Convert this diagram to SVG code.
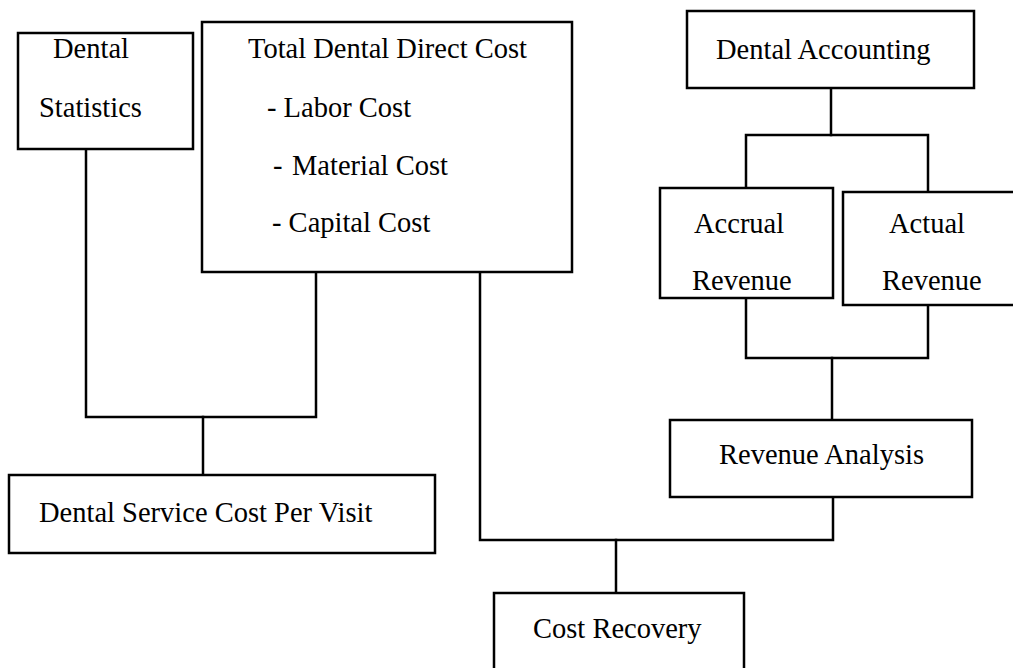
<svg xmlns="http://www.w3.org/2000/svg" width="1013" height="668" viewBox="0 0 1013 668">
<style>
.box{fill:#fff;stroke:#000;stroke-width:2.5}
.ln{fill:none;stroke:#000;stroke-width:2.5;stroke-linejoin:miter;stroke-linecap:square}
text{font-family:"Liberation Serif","Times New Roman",serif;font-size:28.5px;fill:#000}
</style>
<rect width="1013" height="668" fill="#fff"/>
<g id="connectors">
<polyline class="ln" points="86,149 86,417 316,417 316,272"/>
<line class="ln" x1="203" y1="417" x2="203" y2="475"/>
<polyline class="ln" points="480,272 480,540 833,540 833,497"/>
<line class="ln" x1="616" y1="540" x2="616" y2="593"/>
<line class="ln" x1="831" y1="88" x2="831" y2="135"/>
<polyline class="ln" points="746,188 746,135 928,135 928,192"/>
<polyline class="ln" points="746,298 746,358 928,358 928,305"/>
<line class="ln" x1="832" y1="358" x2="832" y2="420"/>
</g>
<g id="dental-statistics">
<rect class="box" x="18" y="33" width="175" height="116"/>
<text x="53" y="58">Dental</text>
<text x="39" y="117">Statistics</text>
</g>
<g id="total-direct-cost">
<rect class="box" x="202" y="22" width="370" height="250"/>
<text x="248" y="58">Total Dental Direct Cost</text>
<text x="267" y="117">- Labor Cost</text>
<text y="175"><tspan x="273">-</tspan><tspan x="292">Material Cost</tspan></text>
<text x="272" y="232">- Capital Cost</text>
</g>
<g id="dental-service-cost">
<rect class="box" x="9" y="475" width="426" height="78"/>
<text x="39" y="522">Dental Service Cost Per Visit</text>
</g>
<g id="dental-accounting">
<rect class="box" x="687" y="11" width="287" height="77"/>
<text x="716" y="59">Dental Accounting</text>
</g>
<g id="accrual-revenue">
<rect class="box" x="660" y="188" width="173" height="110"/>
<text x="694" y="233">Accrual</text>
<text x="692" y="290">Revenue</text>
</g>
<g id="actual-revenue">
<rect class="box" x="843" y="192" width="180" height="113"/>
<text x="889" y="233">Actual</text>
<text x="882" y="290">Revenue</text>
</g>
<g id="revenue-analysis">
<rect class="box" x="670" y="420" width="302" height="77"/>
<text x="719" y="464">Revenue Analysis</text>
</g>
<g id="cost-recovery">
<rect class="box" x="494" y="593" width="250" height="90"/>
<text x="533" y="638">Cost Recovery</text>
</g>
</svg>
